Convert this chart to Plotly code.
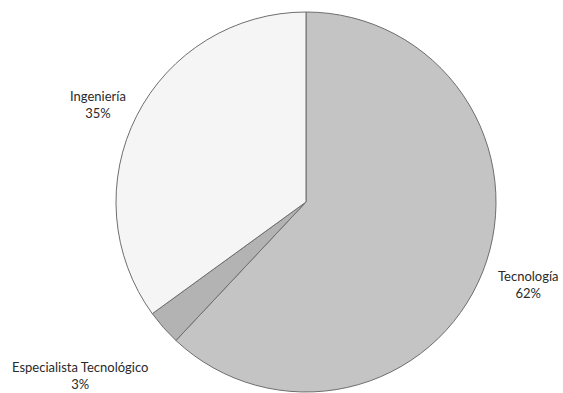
import plotly.graph_objects as go

labels = ["Tecnología", "Especialista Tecnológico", "Ingeniería"]
values = [62, 3, 35]
colors = ["#c4c4c4", "#b3b3b3", "#f5f5f5"]
# label anchor positions (paper coords) for outside labels
label_x = [0.938, 0.142, 0.174]
label_y = [0.275, 0.044, 0.733]

W, H = 563, 393
cx, cy, r = 306, 202, 190

fig = go.Figure(go.Pie(
    labels=labels,
    values=values,
    sort=False,
    direction="clockwise",
    rotation=0,
    marker=dict(colors=colors, line=dict(color="#6e6e6e", width=1)),
    textinfo="none",
    hoverinfo="label+percent",
    showlegend=False,
    domain=dict(x=[(cx - r) / W, (cx + r) / W], y=[1 - (cy + r) / H, 1 - (cy - r) / H]),
))

total = sum(values)
for lab, v, x, y in zip(labels, values, label_x, label_y):
    fig.add_annotation(
        x=x, y=y, xref="paper", yref="paper",
        xanchor="center", yanchor="middle",
        text=f"{lab}<br>{round(100 * v / total)}%",
        showarrow=False, align="center",
        font=dict(family="Lato, Carlito, sans-serif", size=13, color="#2a2a2a"),
    )

fig.update_layout(
    width=W, height=H,
    margin=dict(l=0, r=0, t=0, b=0),
    paper_bgcolor="white", plot_bgcolor="white",
)

fig.write_html("out.html")
